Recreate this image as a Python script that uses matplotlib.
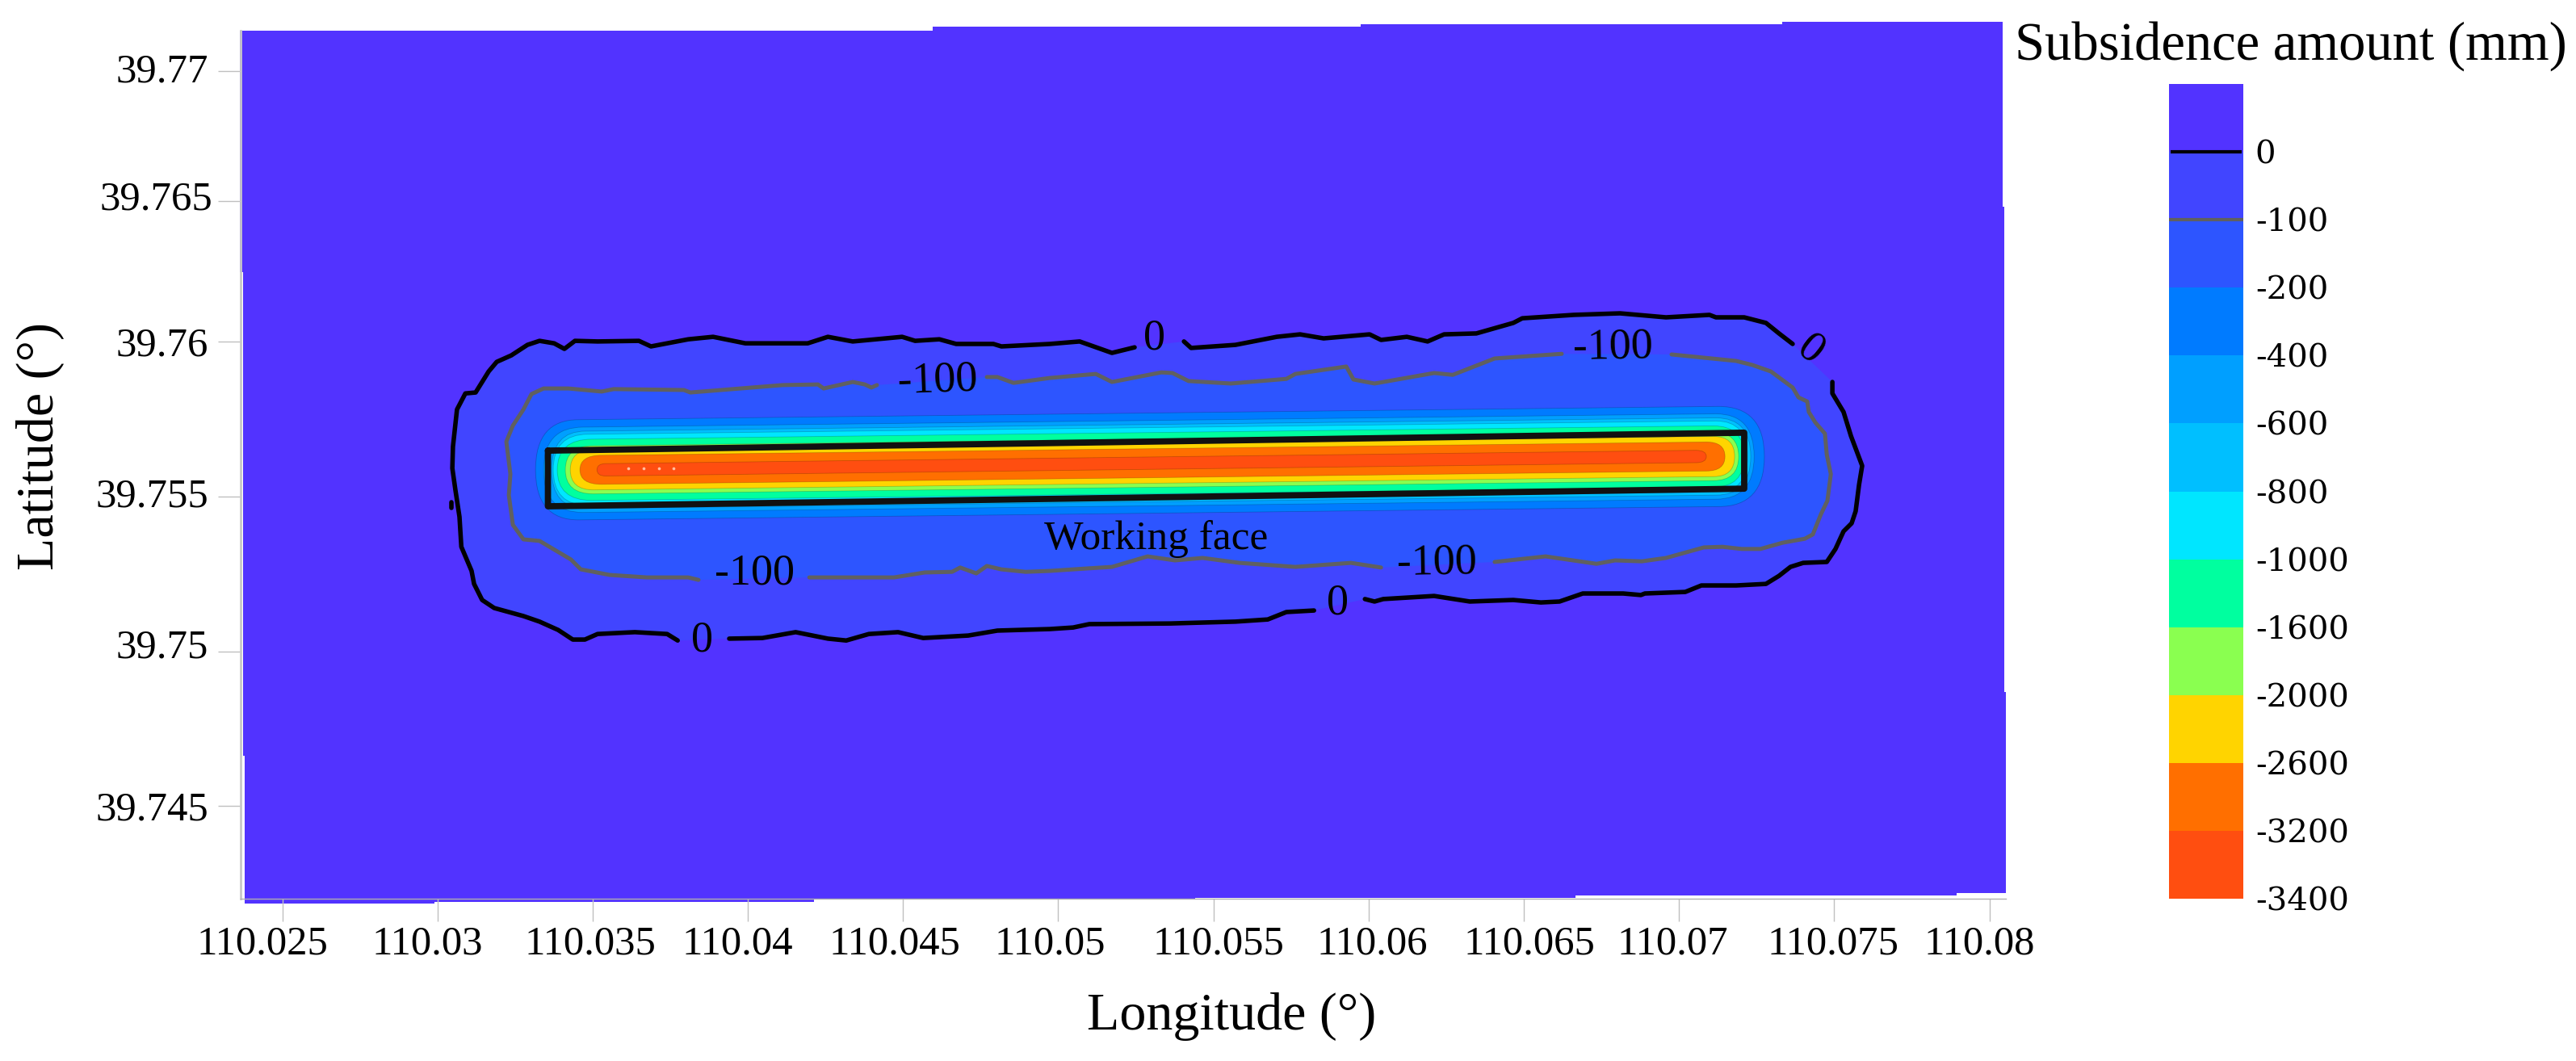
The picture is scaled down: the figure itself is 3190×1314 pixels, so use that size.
#!/usr/bin/env python3

import numpy as np

from matplotlib import pyplot as plt
from matplotlib.colors import ListedColormap
from matplotlib.patches import PathPatch
from matplotlib.path import Path

plt.rcParams['font.family'] = ['Liberation Serif', 'DejaVu Serif']

# study area outline (stepped edges of the raster)
area_lon = [110.02364, 110.04596, 110.04596, 110.05975, 110.05975, 110.07333, 110.07333, 110.08043, 110.08043,
            110.08048, 110.08048, 110.08053, 110.08053, 110.07894, 110.07894, 110.06667, 110.06667, 110.05441,
            110.05441, 110.04213, 110.04213, 110.02991, 110.02991, 110.02379, 110.02379, 110.02374, 110.02374,
            110.02364]
area_lat = [39.77007, 39.77007, 39.77020, 39.77020, 39.77028, 39.77028, 39.77036, 39.77036, 39.76438,
            39.76438, 39.74868, 39.74868, 39.74218, 39.74218, 39.74210, 39.74210, 39.74203, 39.74203,
            39.74200, 39.74200, 39.74190, 39.74190, 39.74184, 39.74184, 39.74662, 39.74662, 39.76226,
            39.76226]

# 0 mm contour, four pieces between the labels
zero_a_lon = [110.03774, 110.03740, 110.03636, 110.03516, 110.03475, 110.03436, 110.03389, 110.03329, 110.03277,
              110.03183, 110.03144, 110.03118, 110.03110, 110.03077, 110.03071, 110.03058, 110.03048, 110.03050,
              110.03063, 110.03090, 110.03123, 110.03165, 110.03191, 110.03238, 110.03290, 110.03329, 110.03376,
              110.03409, 110.03443, 110.03516, 110.03649, 110.03688, 110.03808, 110.03888, 110.03992, 110.04193,
              110.04258, 110.04338, 110.04497, 110.04539, 110.04617, 110.04671, 110.04791, 110.04817, 110.04973,
              110.05069, 110.05173, 110.05246]
zero_a_lat = [39.75035, 39.75056, 39.75062, 39.75056, 39.75038, 39.75038, 39.75069, 39.75096, 39.75114,
              39.75140, 39.75166, 39.75218, 39.75260, 39.75338, 39.75435, 39.75521, 39.75592, 39.75662,
              39.75782, 39.75834, 39.75837, 39.75905, 39.75936, 39.75957, 39.75991, 39.76004, 39.75996,
              39.75978, 39.76004, 39.76002, 39.76004, 39.75986, 39.76009, 39.76017, 39.75996, 39.75996,
              39.76017, 39.76002, 39.76017, 39.76004, 39.76009, 39.75994, 39.75994, 39.75986, 39.75994,
              39.76002, 39.75965, 39.75983]
zero_b_lon = [110.05405, 110.05428, 110.05571, 110.05704, 110.05779, 110.05855, 110.06003, 110.06040, 110.06123,
              110.06190, 110.06243, 110.06347, 110.06466, 110.06495, 110.06661, 110.06810, 110.06958, 110.07098,
              110.07119, 110.07210, 110.07280, 110.07322, 110.07366]
zero_b_lat = [39.76002, 39.75981, 39.75991, 39.76017, 39.76025, 39.76012, 39.76025, 39.76007, 39.76017,
              39.76002, 39.76025, 39.76028, 39.76062, 39.76077, 39.76088, 39.76093, 39.76080, 39.76088,
              39.76080, 39.76080, 39.76062, 39.76028, 39.75994]
zero_c_lon = [110.07494, 110.07494, 110.07530, 110.07554, 110.07590, 110.07580, 110.07569, 110.07556, 110.07530,
              110.07504, 110.07476, 110.07400, 110.07359, 110.07322, 110.07280, 110.07184, 110.07072, 110.07020,
              110.06890, 110.06877, 110.06820, 110.06690, 110.06615, 110.06555, 110.06466, 110.06326, 110.06211,
              110.06047, 110.06019, 110.05988]
zero_c_lat = [39.75871, 39.75834, 39.75774, 39.75696, 39.75600, 39.75539, 39.75453, 39.75414, 39.75388,
              39.75331, 39.75289, 39.75286, 39.75273, 39.75244, 39.75218, 39.75213, 39.75213, 39.75192,
              39.75187, 39.75182, 39.75187, 39.75187, 39.75161, 39.75158, 39.75166, 39.75161, 39.75179,
              39.75169, 39.75161, 39.75169]
zero_d_lon = [110.05824, 110.05735, 110.05675, 110.05571, 110.05361, 110.05100, 110.05048, 110.04973, 110.04804,
              110.04710, 110.04565, 110.04484, 110.04390, 110.04317, 110.04258, 110.04154, 110.04047, 110.03940]
zero_d_lat = [39.75132, 39.75127, 39.75103, 39.75096, 39.75090, 39.75088, 39.75077, 39.75072, 39.75067,
              39.75051, 39.75043, 39.75062, 39.75056, 39.75035, 39.75041, 39.75062, 39.75043, 39.75041]
zero_dot_lon = [110.03046, 110.03046]
zero_dot_lat = [39.75483, 39.75463]

# -100 mm contour
hund_a_lon = [110.03841, 110.03808, 110.03675, 110.03555, 110.03462, 110.03430, 110.03329, 110.03277, 110.03243,
              110.03230, 110.03235, 110.03222, 110.03243, 110.03277, 110.03303, 110.03342, 110.03422, 110.03529,
              110.03568, 110.03794, 110.03815, 110.04112, 110.04226, 110.04244, 110.04338, 110.04377, 110.04398,
              110.04416]
hund_a_lat = [39.75231, 39.75239, 39.75239, 39.75247, 39.75265, 39.75297, 39.75357, 39.75362, 39.75409,
              39.75505, 39.75573, 39.75678, 39.75730, 39.75782, 39.75832, 39.75850, 39.75850, 39.75840,
              39.75848, 39.75845, 39.75837, 39.75861, 39.75863, 39.75850, 39.75871, 39.75863, 39.75853,
              39.75861]
hund_b_lon = [110.04770, 110.04804, 110.04856, 110.04973, 110.05121, 110.05173, 110.05332, 110.05368, 110.05420,
              110.05556, 110.05735, 110.05764, 110.05928, 110.05951, 110.06019, 110.06211, 110.06271, 110.06406,
              110.06622]
hund_b_lat = [39.75887, 39.75887, 39.75868, 39.75884, 39.75897, 39.75871, 39.75902, 39.75900, 39.75874,
              39.75866, 39.75881, 39.75897, 39.75921, 39.75879, 39.75866, 39.75900, 39.75894, 39.75947,
              39.75962]
hund_c_lon = [110.06976, 110.07184, 110.07236, 110.07296, 110.07366, 110.07385, 110.07413, 110.07418, 110.07439,
              110.07470, 110.07476, 110.07489, 110.07478, 110.07457, 110.07431, 110.07405, 110.07333, 110.07262,
              110.07202, 110.07140, 110.07080, 110.06958, 110.06880, 110.06794, 110.06734, 110.06570, 110.06406]
hund_c_lat = [39.75960, 39.75939, 39.75926, 39.75905, 39.75853, 39.75821, 39.75808, 39.75774, 39.75740,
              39.75704, 39.75636, 39.75573, 39.75487, 39.75443, 39.75378, 39.75364, 39.75351, 39.75331,
              39.75331, 39.75338, 39.75336, 39.75302, 39.75291, 39.75294, 39.75283, 39.75307, 39.75289]
hund_d_lon = [110.06040, 110.05943, 110.05764, 110.05584, 110.05465, 110.05376, 110.05288, 110.05173, 110.05093,
              110.04973, 110.04895, 110.04817, 110.04770, 110.04736, 110.04684, 110.04658, 110.04570, 110.04471,
              110.04198]
hund_d_lat = [39.75271, 39.75286, 39.75273, 39.75286, 39.75302, 39.75294, 39.75307, 39.75273, 39.75268,
              39.75260, 39.75257, 39.75265, 39.75276, 39.75252, 39.75271, 39.75257, 39.75255, 39.75239,
              39.75239]

# deeper bands: long narrow shapes along the panel axis
band_colors = ['#007BFF', '#009FFF', '#00BFFF', '#00E6FF', '#00FF9F', '#8AFF50', '#FFD400', '#FF6F00', '#FF4E10']
band_tip_w = [110.03316, 110.03342, 110.03368, 110.03373, 110.03386, 110.03412, 110.03428, 110.03459, 110.03514]
band_start_w = [110.03454, 110.03469, 110.03477, 110.03485, 110.03498, 110.03503, 110.03503, 110.03529, 110.03542]
band_start_e = [110.07127, 110.07119, 110.07119, 110.07119, 110.07111, 110.07111, 110.07111, 110.07088, 110.07054]
band_tip_e = [110.07275, 110.07242, 110.07231, 110.07221, 110.07210, 110.07192, 110.07179, 110.07148, 110.07088]
band_half = [0.00162, 0.00138, 0.00125, 0.00115, 0.00099, 0.00078, 0.00065, 0.00047, 0.00020]
axis_lat_w = 39.75587
axis_lat_e = 39.75630

peak_lon = [110.03615, 110.03664, 110.03714, 110.03761]
peak_lat = [39.75592, 39.75592, 39.75592, 39.75592]

# working face
face_lon = [110.03356, 110.07210, 110.07210, 110.03356, 110.03356]
face_lat = [39.75649, 39.75707, 39.75526, 39.75469, 39.75649]

# contour labels
label_text = ['0', '-100', '-100', '0', '-100', '-100', '0', '0']
label_lon = [110.03854, 110.04021, 110.04611, 110.05309, 110.06786, 110.06219, 110.05899, 110.07424]
label_lat = [39.75035, 39.75252, 39.75874, 39.76012, 39.75983, 39.75286, 39.75156, 39.75975]
label_rot = [0, 0, 2, 0, 1, 1, 0, -38]

# axes
x_ticks = [110.025, 110.03, 110.035, 110.04, 110.045, 110.05, 110.055, 110.06, 110.065, 110.07, 110.075, 110.08]
x_labels = ['110.025', '110.03', '110.035', '110.04', '110.045', '110.05', '110.055', '110.06', '110.065',
            '110.07', '110.075', '110.08']
x_label_lon = [110.02437, 110.02967, 110.03493, 110.03966, 110.04474, 110.04973, 110.05517, 110.06011, 110.06518,
               110.06979, 110.07496, 110.07967]
# the top two ticks sit off the regular spacing in the original figure
y_ticks = [39.74500, 39.74999, 39.75500, 39.76002, 39.76456, 39.76876]
y_labels = ['39.745', '39.75', '39.755', '39.76', '39.765', '39.77']
y_label_lat = [39.74487, 39.75012, 39.75500, 39.75989, 39.76461, 39.76874]

# legend
legend_colors = ['#FF4E10', '#FF6F00', '#FFD400', '#8AFF50', '#00FF9F', '#00E6FF', '#00BFFF', '#009FFF', '#007BFF',
                 '#2D55FF', '#4145FF', '#5233FF']
legend_labels = ['-3400', '-3200', '-2600', '-2000', '-1600', '-1000', '-800', '-600', '-400', '-200', '-100', '0']


def band_path(i):
    h = band_half[i]
    verts = [(band_tip_w[i], axis_lat_w), (band_tip_w[i], axis_lat_w + h), (band_start_w[i], axis_lat_w + h),
             (band_start_e[i], axis_lat_e + h), (band_tip_e[i], axis_lat_e + h), (band_tip_e[i], axis_lat_e),
             (band_tip_e[i], axis_lat_e - h), (band_start_e[i], axis_lat_e - h),
             (band_start_w[i], axis_lat_w - h), (band_tip_w[i], axis_lat_w - h), (band_tip_w[i], axis_lat_w)]
    codes = [Path.MOVETO, Path.CURVE3, Path.CURVE3, Path.LINETO, Path.CURVE3, Path.CURVE3, Path.CURVE3, Path.CURVE3,
             Path.LINETO, Path.CURVE3, Path.CURVE3]
    return Path(verts, codes)


def main():
    W, H = 3190, 1314
    fig = plt.figure(figsize=(W / 100, H / 100), dpi=100)
    ax = fig.add_axes([298 / W, 1 - 1113 / H, (2484 - 298) / W, (1113 - 20) / H])
    ax.set_xlim(110.02366, 110.08053)
    ax.set_ylim(39.74200, 39.77054)

    ax.fill(area_lon, area_lat, color='#5233FF', lw=0, zorder=1, clip_on=False)
    ax.fill(zero_a_lon + zero_b_lon + zero_c_lon + zero_d_lon, zero_a_lat + zero_b_lat + zero_c_lat + zero_d_lat,
            color='#4145FF', lw=0, zorder=1.1)
    ax.fill(hund_a_lon + hund_b_lon + hund_c_lon + hund_d_lon, hund_a_lat + hund_b_lat + hund_c_lat + hund_d_lat,
            color='#2D55FF', lw=0, zorder=1.2)
    for i, c in enumerate(band_colors):
        ax.add_patch(PathPatch(band_path(i), facecolor=c, edgecolor=(0, 0, 0, 0.2), lw=0.6, zorder=1.3 + i * 0.01))
    ax.scatter(peak_lon, peak_lat, s=7, color='#FFC0A0', lw=0, zorder=1.5)

    for xs, ys in [(zero_a_lon, zero_a_lat), (zero_b_lon, zero_b_lat), (zero_c_lon, zero_c_lat),
                   (zero_d_lon, zero_d_lat), (zero_dot_lon, zero_dot_lat)]:
        ax.plot(xs, ys, color='k', lw=4.0, solid_capstyle='round', solid_joinstyle='round', zorder=3)
    for xs, ys in [(hund_a_lon, hund_a_lat), (hund_b_lon, hund_b_lat), (hund_c_lon, hund_c_lat),
                   (hund_d_lon, hund_d_lat)]:
        ax.plot(xs, ys, color='#606060', lw=3.6, solid_capstyle='round', solid_joinstyle='round', zorder=3)
    ax.plot(face_lon, face_lat, color='#111111', lw=5.6, solid_capstyle='round', solid_joinstyle='round', zorder=4)

    for s, x, y, r in zip(label_text, label_lon, label_lat, label_rot):
        ax.text(x, y, s, fontsize=39, ha='center', va='center', rotation=r, zorder=5)
    ax.text(110.05314, 39.75362, 'Working face', fontsize=37, ha='center', va='center', zorder=5)

    for side in ['top', 'right']:
        ax.spines[side].set_visible(False)
    ax.spines['left'].set_color('#C8C8C8')
    ax.spines['left'].set_linewidth(2)
    ax.spines['left'].set_bounds(39.74200, 39.77007)
    ax.spines['bottom'].set_color('#B0B0B0')
    ax.spines['bottom'].set_linewidth(1)
    ax.set_xticks(x_ticks)
    ax.set_yticks(y_ticks)
    ax.set_xticklabels([])
    ax.set_yticklabels([])
    ax.tick_params(axis='both', length=20, width=1, color='#C0C0C0')

    for s, x in zip(x_labels, x_label_lon):
        ax.text(x, -0.0515, s, fontsize=36.5, ha='center', va='center', transform=ax.get_xaxis_transform(),
                clip_on=False)
    for s, y in zip(y_labels, y_label_lat):
        pad = -0.016 if s == '39.765' else -0.0183
        ax.text(pad, y, s, fontsize=36.5, ha='right', va='center', transform=ax.get_yaxis_transform(), clip_on=False)
    ax.text(110.05558, -0.134, 'Longitude (\N{DEGREE SIGN})', fontsize=47.5, ha='center', va='center',
            transform=ax.get_xaxis_transform(), clip_on=False)
    fig.text(50 / W, 1 - 552 / H, 'Latitude (\N{DEGREE SIGN})', fontsize=47.5, rotation=90, ha='center', va='center')
    fig.text(2837 / W, 1 - 57 / H, 'Subsidence amount (mm)', fontsize=48, ha='center', va='center')

    # legend bar
    cax = fig.add_axes([2686 / W, 1 - 1113 / H, (2777.5 - 2686) / W, (1113 - 104) / H])
    cmap = ListedColormap(legend_colors)
    levels = np.arange(len(legend_colors) + 1)
    cax.pcolormesh([0, 1], levels, np.arange(len(legend_colors)).reshape(-1, 1), cmap=cmap)
    cax.hlines(len(legend_labels) - 1, 0.02, 0.98, color='k', lw=3)
    cax.hlines(len(legend_labels) - 2, 0, 1, color='#606060', lw=3)
    cax.set_xticks([])
    cax.yaxis.tick_right()
    cax.set_yticks(levels[:-1])
    cax.set_yticklabels(legend_labels, fontsize=29)
    for lbl in cax.get_yticklabels():
        lbl.set_fontfamily('DejaVu Serif')
    cax.tick_params(axis='y', length=0, pad=11)
    for sp in cax.spines.values():
        sp.set_visible(False)

    fig.savefig('out.png', dpi=100)
    plt.close(fig)


if __name__ == '__main__':
    main()
